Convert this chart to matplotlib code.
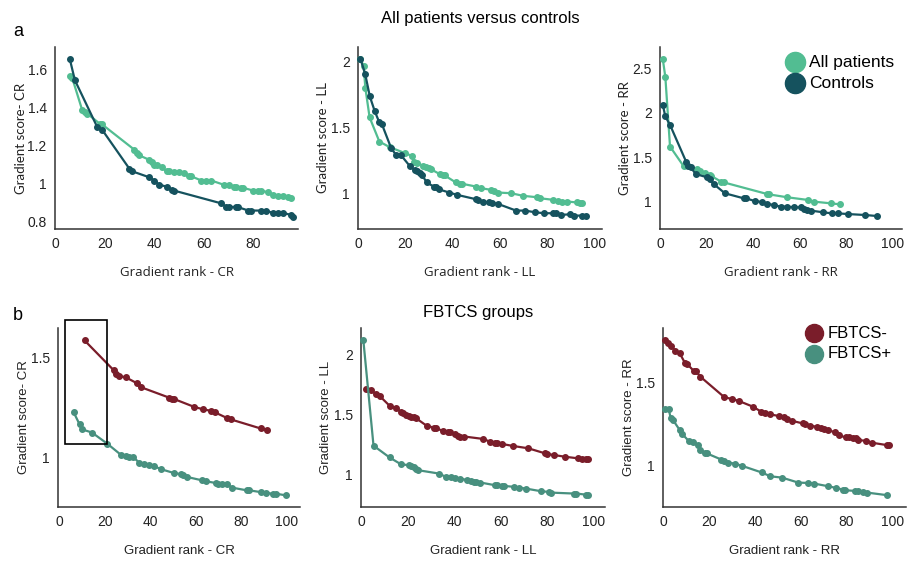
import matplotlib
matplotlib.use("Agg")
import matplotlib.pyplot as plt
from matplotlib.patches import Rectangle
from matplotlib.ticker import FormatStrFormatter, FuncFormatter

W, H = 907, 565

# colours
c_pat = "#52bd92"
c_ctl = "#15525e"
c_neg = "#7a1d2a"
c_pos = "#48907f"

# ---- row a: all patients vs controls ----
cr_ctl_x = [6, 8, 17, 19, 30, 31, 38, 40, 42, 45, 47, 48, 67, 69, 70, 73, 74, 78, 79, 83, 85, 88, 90, 92, 95, 96]
cr_ctl_y = [1.655, 1.546, 1.30, 1.285, 1.08, 1.067, 1.035, 1.018, 0.996, 0.986, 0.97, 0.965, 0.898, 0.88,
            0.877, 0.88, 0.877, 0.86, 0.86, 0.86, 0.86, 0.847, 0.847, 0.847, 0.838, 0.828]
cr_pat_x = [6, 7, 11, 12, 13, 18, 19, 32, 33, 34, 38, 39, 40, 41, 43, 45, 46, 48, 50, 52, 54, 55, 59, 61,
            63, 68, 70, 72, 73, 75, 76, 80, 82, 83, 86, 88, 90, 92, 94, 95]
cr_pat_y = [1.567, 1.555, 1.387, 1.378, 1.37, 1.317, 1.313, 1.18, 1.162, 1.15, 1.127, 1.114, 1.10, 1.097,
            1.088, 1.067, 1.067, 1.065, 1.065, 1.056, 1.044, 1.04, 1.018, 1.018, 1.018, 0.996, 0.996, 0.986,
            0.982, 0.979, 0.979, 0.965, 0.965, 0.965, 0.956, 0.944, 0.938, 0.938, 0.933, 0.926]

ll_ctl_x = [1, 3, 5, 7, 9, 10, 14, 16, 18, 22, 24, 25, 26, 27, 29, 32, 33, 34, 38.5, 42, 49.7, 50.6, 52.7,
            55.2, 56.6, 59, 66.7, 70.6, 74.7, 78.6, 82.5, 83.5, 85.6, 89.4, 91.2, 94.4, 96.4]
ll_ctl_y = [2.02, 1.907, 1.735, 1.627, 1.539, 1.53, 1.345, 1.295, 1.295, 1.207, 1.18, 1.174, 1.16, 1.144,
            1.086, 1.055, 1.05, 1.035, 1.01, 0.992, 0.96, 0.955, 0.937, 0.937, 0.93, 0.925, 0.874, 0.874,
            0.861, 0.854, 0.854, 0.854, 0.841, 0.846, 0.836, 0.836, 0.836]
ll_pat_x = [1, 2.4, 3.1, 4.9, 9, 13.3, 19.9, 22.7, 23.8, 24.8, 27.6, 28.7, 29.9, 30.8, 34.5, 35.7, 36.6,
            41.3, 42.9, 44, 49.9, 52, 56.2, 57.2, 59, 64.6, 69.8, 75.4, 76.8, 82.4, 84.5, 86.3, 88.4, 92.6,
            93.7, 94.7]
ll_pat_y = [2.02, 1.962, 1.80, 1.577, 1.395, 1.353, 1.307, 1.287, 1.237, 1.232, 1.212, 1.20, 1.194, 1.186,
            1.149, 1.144, 1.139, 1.086, 1.076, 1.076, 1.055, 1.043, 1.03, 1.025, 1.01, 1.005, 0.985, 0.975,
            0.967, 0.955, 0.947, 0.942, 0.942, 0.935, 0.93, 0.93]

rr_ctl_x = [1.2, 2.3, 4.3, 11.2, 12.2, 13.2, 15.3, 20.1, 21.3, 23, 27.9, 36, 37, 40.7, 43.9, 46, 48.9, 51.8,
            54.7, 57.8, 60.4, 61.9, 63, 65, 70.2, 73.8, 76.3, 80.6, 88.2, 93.1]
rr_ctl_y = [2.087, 1.956, 1.862, 1.45, 1.40, 1.386, 1.311, 1.274, 1.251, 1.199, 1.094, 1.037, 1.037, 1.007,
            0.996, 0.974, 0.963, 0.944, 0.944, 0.936, 0.936, 0.918, 0.906, 0.899, 0.88, 0.869, 0.869, 0.861,
            0.85, 0.839]
rr_pat_x = [1.2, 2.3, 4.3, 10.1, 15.8, 17, 19.4, 21.3, 22, 26.2, 27.3, 46, 46.8, 54.7, 63.6, 66.2, 73.4, 77.3]
rr_pat_y = [2.60, 2.399, 1.619, 1.40, 1.364, 1.349, 1.319, 1.30, 1.289, 1.225, 1.217, 1.086, 1.082, 1.049,
            1.019, 1.0, 0.981, 0.97]

# ---- row b: FBTCS groups ----
cr_neg_x = [11.0, 23.9, 25.0, 26.0, 29.1, 34.1, 36.0, 48.2, 49.6, 50.4, 59.0, 63.1, 66.4, 68.3, 73.4, 75.3,
            88.4, 91.3]
cr_neg_y = [1.583, 1.434, 1.417, 1.407, 1.40, 1.37, 1.35, 1.299, 1.292, 1.292, 1.254, 1.241, 1.234, 1.226,
            1.199, 1.191, 1.146, 1.138]
cr_pos_x = [6.2, 8.8, 10.0, 14.2, 20.9, 27.2, 29.4, 30.4, 32.3, 34.9, 37.2, 39.2, 41.4, 44.5, 50.2, 53.3,
            54.3, 56.1, 62.4, 64.3, 68.7, 69.8, 71.5, 73.4, 75.9, 82.2, 83.3, 88.4, 90.6, 93.7, 95.2, 99.4]
cr_pos_y = [1.226, 1.166, 1.141, 1.126, 1.071, 1.013, 1.008, 1.005, 1.005, 0.977, 0.968, 0.967, 0.96, 0.944,
            0.925, 0.919, 0.914, 0.905, 0.889, 0.884, 0.875, 0.872, 0.872, 0.869, 0.852, 0.839, 0.839, 0.83,
            0.826, 0.822, 0.822, 0.814]

ll_neg_x = [1.7, 3.9, 6.1, 7.9, 12, 14.9, 17, 18, 19.2, 20.2, 21.4, 22.4, 23.4, 28.1, 31, 32, 35.1, 37.2,
            38.2, 40.4, 41.4, 42.6, 44.3, 52.4, 55.3, 57.4, 58.4, 60.6, 65.4, 71.9, 79.1, 80.1, 83, 87.6,
            93.5, 95.2, 96.7, 97.7]
ll_neg_y = [1.712, 1.701, 1.673, 1.651, 1.573, 1.553, 1.52, 1.511, 1.497, 1.489, 1.478, 1.475, 1.469, 1.405,
            1.391, 1.385, 1.363, 1.352, 1.352, 1.338, 1.324, 1.316, 1.316, 1.296, 1.274, 1.265, 1.265, 1.254,
            1.237, 1.218, 1.176, 1.17, 1.162, 1.148, 1.134, 1.128, 1.126, 1.126]
ll_pos_x = [0.7, 5.1, 12, 17, 20.2, 21.4, 22.4, 23.5, 24.2, 33.2, 36.4, 38.5, 40.4, 42.6, 45.5, 47.3, 48.3,
            49.4, 51.2, 57.4, 58.4, 60.6, 61.3, 65.7, 67.8, 70.7, 77.5, 80.8, 81.5, 91.6, 92.6, 96.7, 97.7]
ll_pos_y = [2.12, 1.24, 1.142, 1.084, 1.078, 1.073, 1.064, 1.042, 1.036, 1.008, 0.98, 0.975, 0.972, 0.966,
            0.953, 0.944, 0.939, 0.939, 0.933, 0.911, 0.911, 0.905, 0.905, 0.897, 0.891, 0.883, 0.86, 0.855,
            0.849, 0.841, 0.841, 0.832, 0.832]

rr_neg_x = [0.7, 1.9, 3.1, 5.1, 7, 9.2, 10.2, 13.1, 14.3, 16, 26.6, 30, 32.9, 39, 42.6, 44.5, 46.7, 50.6,
            52.8, 54, 56, 60.8, 61.8, 64, 66.9, 68.8, 70.3, 71.7, 75.1, 76.5, 79.7, 80.9, 82.9, 84.1, 85.2,
            88.7, 91.3, 97.7, 98.6]
rr_neg_y = [1.752, 1.736, 1.72, 1.69, 1.675, 1.619, 1.611, 1.569, 1.565, 1.534, 1.409, 1.399, 1.387, 1.353,
            1.323, 1.313, 1.306, 1.296, 1.288, 1.276, 1.268, 1.252, 1.248, 1.238, 1.232, 1.226, 1.218, 1.212,
            1.198, 1.181, 1.167, 1.167, 1.165, 1.161, 1.151, 1.147, 1.135, 1.121, 1.121]
rr_pos_x = [0.7, 2.2, 3.1, 4.1, 7, 8.1, 10.9, 12.8, 14.8, 16, 17.9, 18.9, 25.2, 26.2, 28.1, 31, 34.3, 42.9,
            46.7, 51.8, 58.9, 63, 65.9, 72, 75.4, 78.3, 79.3, 83.8, 85.1, 87, 88.9, 97.9]
rr_pos_y = [1.339, 1.337, 1.282, 1.272, 1.212, 1.188, 1.147, 1.141, 1.121, 1.091, 1.075, 1.071, 1.034, 1.026,
            1.016, 1.01, 0.996, 0.956, 0.933, 0.925, 0.895, 0.893, 0.889, 0.873, 0.863, 0.853, 0.849, 0.845,
            0.843, 0.839, 0.835, 0.819]

tick_font = "Liberation Sans"

fig = plt.figure(figsize=(W / 100, H / 100), dpi=100)


def add_ax(left, top, right, bottom):
    ax = fig.add_axes([left / W, 1 - bottom / H, (right - left) / W, (bottom - top) / H])
    for s in ["top", "right"]:
        ax.spines[s].set_visible(False)
    for s in ["left", "bottom"]:
        ax.spines[s].set_linewidth(1.1)
        ax.spines[s].set_color("#333333")
    ax.tick_params(length=0, labelsize=10, pad=6, colors="#222222")
    for lab in ax.get_xticklabels() + ax.get_yticklabels():
        lab.set_fontfamily(tick_font)
    ax.yaxis.set_major_formatter(FuncFormatter(lambda v, p: "%g" % v))
    return ax


def series(ax, x, y, col):
    ax.plot(x, y, "-o", color=col, lw=1.6, ms=4, clip_on=False, zorder=3)


panels = [
    # (left, top, right, bottom), data, xlim, ylim, yticks, xticks, xlabel, ylabel
    ((55, 47, 298, 229), [(cr_pat_x, cr_pat_y, c_pat), (cr_ctl_x, cr_ctl_y, c_ctl)],
     (0, 98), (0.763, 1.72), [0.8, 1, 1.2, 1.4, 1.6], [0, 20, 40, 60, 80], "Gradient rank - CR", "Gradient score- CR"),
    ((358, 47, 602, 229), [(ll_pat_x, ll_pat_y, c_pat), (ll_ctl_x, ll_ctl_y, c_ctl)],
     (0, 103), (0.735, 2.108), [1, 1.5, 2], [0, 20, 40, 60, 80, 100], "Gradient rank - LL", "Gradient score - LL"),
    ((660, 47, 902, 229), [(rr_pat_x, rr_pat_y, c_pat), (rr_ctl_x, rr_ctl_y, c_ctl)],
     (0, 104), (0.693, 2.736), [1, 1.5, 2, 2.5], [0, 20, 40, 60, 80, 100], "Gradient rank - RR", "Gradient score - RR"),
    ((58, 328, 300, 507), [(cr_neg_x, cr_neg_y, c_neg), (cr_pos_x, cr_pos_y, c_pos)],
     (-0.7, 105.7), (0.756, 1.645), [1, 1.5], [0, 20, 40, 60, 80, 100], "Gradient rank - CR", "Gradient score- CR"),
    ((361, 328, 605, 507), [(ll_neg_x, ll_neg_y, c_neg), (ll_pos_x, ll_pos_y, c_pos)],
     (-0.3, 105), (0.729, 2.22), [1, 1.5, 2], [0, 20, 40, 60, 80, 100], "Gradient rank - LL", "Gradient score - LL"),
    ((663, 328, 906, 507), [(rr_neg_x, rr_neg_y, c_neg), (rr_pos_x, rr_pos_y, c_pos)],
     (-0.3, 106), (0.748, 1.827), [1, 1.5], [0, 20, 40, 60, 80, 100], "Gradient rank - RR", "Gradient score - RR"),
]

axes = []
for i, (box, data, xl, yl, yt, xt, xlab, ylab) in enumerate(panels):
    ax = add_ax(*box)
    for x, y, col in data:
        series(ax, x, y, col)
    ax.set_xlim(*xl)
    ax.set_ylim(*yl)
    ax.set_yticks(yt)
    ax.set_xticks(xt)
    for lab in ax.get_xticklabels() + ax.get_yticklabels():
        lab.set_fontfamily(tick_font)
    row_a = i < 3
    xfam = "Open Sans" if row_a else "Liberation Sans"
    yfam = "Lato" if row_a else "Liberation Sans"
    left, top, right, bottom = box
    xl_y = 272 if row_a else 551
    fig.text((left + right) / 2 / W, 1 - xl_y / H, xlab, ha="center", va="center",
             fontsize=9.5, family=xfam, color="#222222")
    yl_x = [21, 323, 625, 24, 326, 629][i]
    fig.text(yl_x / W, 1 - (top + bottom) / 2 / H, ylab, ha="center", va="center",
             rotation=90, fontsize=9.5, family=yfam, color="#222222")
    axes.append(ax)

# box highlighting the first ranks in panel b, CR
axes[3].add_patch(Rectangle((2.2, 1.071), 18.7, 0.612, fill=False, lw=1.2,
                            edgecolor="black", clip_on=False, zorder=4))

# titles and panel letters
fig.text(480 / W, 1 - 18 / H, "All patients versus controls", ha="center", va="center",
         fontsize=12, family="Liberation Sans")
fig.text(478 / W, 1 - 313 / H, "FBTCS groups", ha="center", va="center",
         fontsize=12, family="Liberation Sans")
fig.text(18 / W, 1 - 32 / H, "a", ha="center", va="center", fontsize=13, family="Liberation Sans")
fig.text(18 / W, 1 - 315 / H, "b", ha="center", va="center", fontsize=13, family="Liberation Sans")

# legends drawn as dots + text
def legend_entry(x, y, col, label, size, fs):
    fig.lines.append(plt.Line2D([x / W], [1 - y / H], marker="o", ms=size, color=col,
                                transform=fig.transFigure, lw=0))
    fig.text((x + 14) / W, 1 - y / H, label, ha="left", va="center", fontsize=fs,
             family="Liberation Sans")

legend_entry(795, 62, c_pat, "All patients", 14.5, 12.5)
legend_entry(795, 83, c_ctl, "Controls", 14.5, 12.5)
legend_entry(814, 333, c_neg, "FBTCS-", 13, 12)
legend_entry(814, 354, c_pos, "FBTCS+", 13, 12)

fig.savefig("out.png", dpi=100)
